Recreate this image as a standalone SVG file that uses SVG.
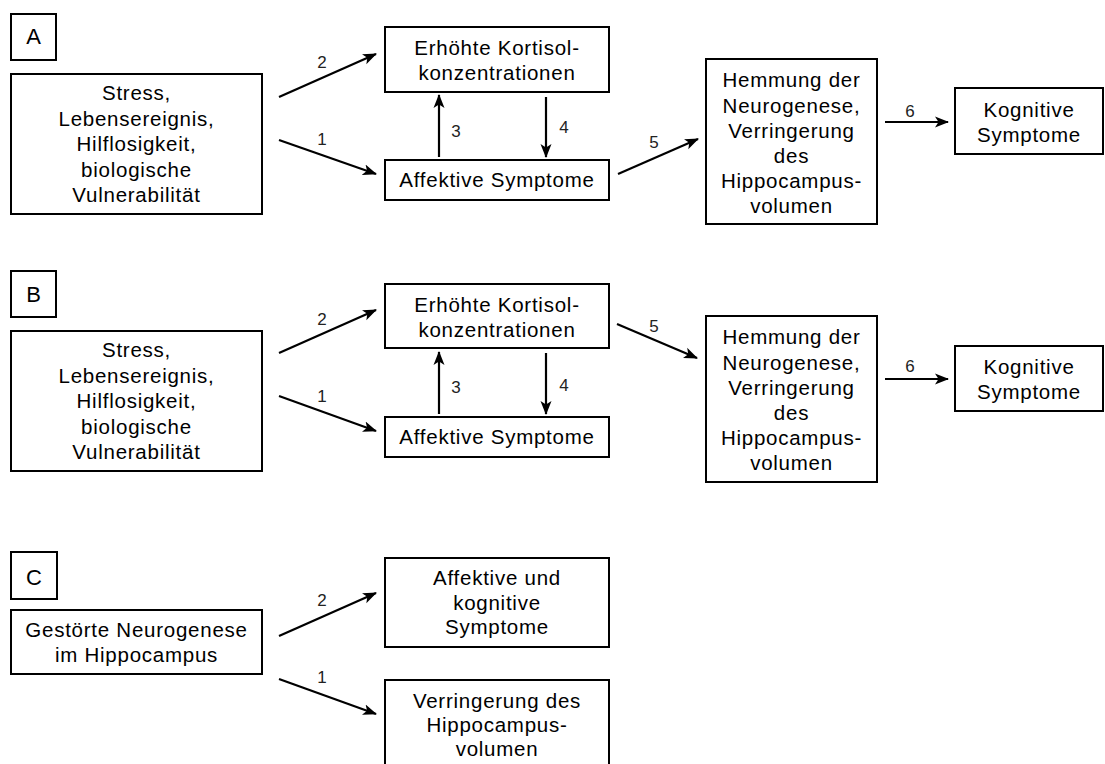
<svg xmlns="http://www.w3.org/2000/svg" width="1105" height="764" viewBox="0 0 1105 764">
<defs>
<style>
.box{fill:#fff;stroke:#000;stroke-width:2}
.t{font-family:"Liberation Sans",Arial,sans-serif;font-size:20.5px;letter-spacing:0.75px;fill:#000;text-anchor:middle}
.sec{font-family:"Liberation Sans",Arial,sans-serif;font-size:22px;fill:#000;text-anchor:middle}
.n{font-family:"Liberation Sans",Arial,sans-serif;font-size:17px;fill:#222;text-anchor:middle}
.c{stroke:#000;stroke-width:2.2;fill:none;marker-end:url(#ah)}
</style>
<marker id="ah" markerUnits="userSpaceOnUse" markerWidth="15" markerHeight="12" refX="13" refY="6" orient="auto">
<path d="M0,0.5 L14,6 L0,11.5 L3.5,6 z" fill="#000"/>
</marker>
</defs>
<rect width="1105" height="764" fill="#fff"/>

<!-- Section A -->
<g id="labelA"><rect class="box" x="11" y="14" width="45" height="46"/><text class="sec" x="33.5" y="44">A</text></g>
<g id="A_stress"><rect class="box" x="11" y="74" width="251" height="140"/>
<text class="t" x="136.5" y="100">Stress,</text>
<text class="t" x="136.5" y="125.5">Lebensereignis,</text>
<text class="t" x="136.5" y="151">Hilflosigkeit,</text>
<text class="t" x="136.5" y="176.5">biologische</text>
<text class="t" x="136.5" y="202">Vulnerabilität</text></g>
<g id="A_kortisol"><rect class="box" x="385" y="27" width="224" height="65"/>
<text class="t" x="497" y="55">Erhöhte Kortisol-</text>
<text class="t" x="497" y="80">konzentrationen</text></g>
<g id="A_affektiv"><rect class="box" x="385" y="160" width="224" height="40"/>
<text class="t" x="497" y="187">Affektive Symptome</text></g>
<g id="A_hemmung"><rect class="box" x="706" y="59" width="171" height="165"/>
<text class="t" x="791.5" y="87">Hemmung der</text>
<text class="t" x="791.5" y="112.5">Neurogenese,</text>
<text class="t" x="791.5" y="138">Verringerung</text>
<text class="t" x="791.5" y="162.5">des</text>
<text class="t" x="791.5" y="188">Hippocampus-</text>
<text class="t" x="791.5" y="213">volumen</text></g>
<g id="A_kognitiv"><rect class="box" x="955" y="88" width="148" height="66"/>
<text class="t" x="1029" y="117">Kognitive</text>
<text class="t" x="1029" y="142">Symptome</text></g>

<!-- Section B -->
<g id="labelB"><rect class="box" x="11" y="271" width="45" height="46"/><text class="sec" x="33.5" y="302">B</text></g>
<g id="B_stress"><rect class="box" x="11" y="331" width="251" height="140"/>
<text class="t" x="136.5" y="357">Stress,</text>
<text class="t" x="136.5" y="382.5">Lebensereignis,</text>
<text class="t" x="136.5" y="408">Hilflosigkeit,</text>
<text class="t" x="136.5" y="433.5">biologische</text>
<text class="t" x="136.5" y="459">Vulnerabilität</text></g>
<g id="B_kortisol"><rect class="box" x="385" y="284" width="224" height="64"/>
<text class="t" x="497" y="312">Erhöhte Kortisol-</text>
<text class="t" x="497" y="337">konzentrationen</text></g>
<g id="B_affektiv"><rect class="box" x="385" y="417" width="224" height="40"/>
<text class="t" x="497" y="444">Affektive Symptome</text></g>
<g id="B_hemmung"><rect class="box" x="706" y="316" width="171" height="166"/>
<text class="t" x="791.5" y="344">Hemmung der</text>
<text class="t" x="791.5" y="369.5">Neurogenese,</text>
<text class="t" x="791.5" y="395">Verringerung</text>
<text class="t" x="791.5" y="419.5">des</text>
<text class="t" x="791.5" y="445">Hippocampus-</text>
<text class="t" x="791.5" y="470">volumen</text></g>
<g id="B_kognitiv"><rect class="box" x="955" y="346" width="148" height="65"/>
<text class="t" x="1029" y="374">Kognitive</text>
<text class="t" x="1029" y="399">Symptome</text></g>

<!-- Section C -->
<g id="labelC"><rect class="box" x="11" y="552" width="46" height="47"/><text class="sec" x="34" y="585">C</text></g>
<g id="C_neuro"><rect class="box" x="11" y="610" width="251" height="64"/>
<text class="t" x="136.5" y="637">Gestörte Neurogenese</text>
<text class="t" x="136.5" y="662">im Hippocampus</text></g>
<g id="C_symptome"><rect class="box" x="385" y="558" width="224" height="89"/>
<text class="t" x="497" y="585">Affektive und</text>
<text class="t" x="497" y="610">kognitive</text>
<text class="t" x="497" y="634">Symptome</text></g>
<g id="C_volumen"><rect class="box" x="385" y="680" width="224" height="100"/>
<text class="t" x="497" y="708">Verringerung des</text>
<text class="t" x="497" y="732">Hippocampus-</text>
<text class="t" x="497" y="756">volumen</text></g>

<!-- Connectors -->
<g id="connectors">
<line class="c" x1="279" y1="97" x2="376" y2="54"/>
<line class="c" x1="279" y1="140" x2="376" y2="174"/>
<line class="c" x1="439" y1="157" x2="439" y2="95"/>
<line class="c" x1="546" y1="97" x2="546" y2="157"/>
<line class="c" x1="618" y1="174" x2="698" y2="139"/>
<line class="c" x1="885" y1="122" x2="948" y2="122"/>

<line class="c" x1="279" y1="353" x2="376" y2="310"/>
<line class="c" x1="279" y1="396" x2="376" y2="431"/>
<line class="c" x1="439" y1="414" x2="439" y2="352"/>
<line class="c" x1="546" y1="353" x2="546" y2="414"/>
<line class="c" x1="617" y1="324" x2="697" y2="358"/>
<line class="c" x1="885" y1="379" x2="948" y2="379"/>

<line class="c" x1="279" y1="636" x2="376" y2="593"/>
<line class="c" x1="279" y1="679" x2="376" y2="714"/>

<text class="n" x="322" y="68">2</text>
<text class="n" x="322" y="145">1</text>
<text class="n" x="456" y="137">3</text>
<text class="n" x="564" y="133">4</text>
<text class="n" x="654" y="148">5</text>
<text class="n" x="910" y="117">6</text>

<text class="n" x="322" y="325">2</text>
<text class="n" x="322" y="402">1</text>
<text class="n" x="456" y="393">3</text>
<text class="n" x="564" y="391">4</text>
<text class="n" x="654" y="332">5</text>
<text class="n" x="910" y="372">6</text>

<text class="n" x="322" y="606">2</text>
<text class="n" x="322" y="683">1</text>
</g>
</svg>
